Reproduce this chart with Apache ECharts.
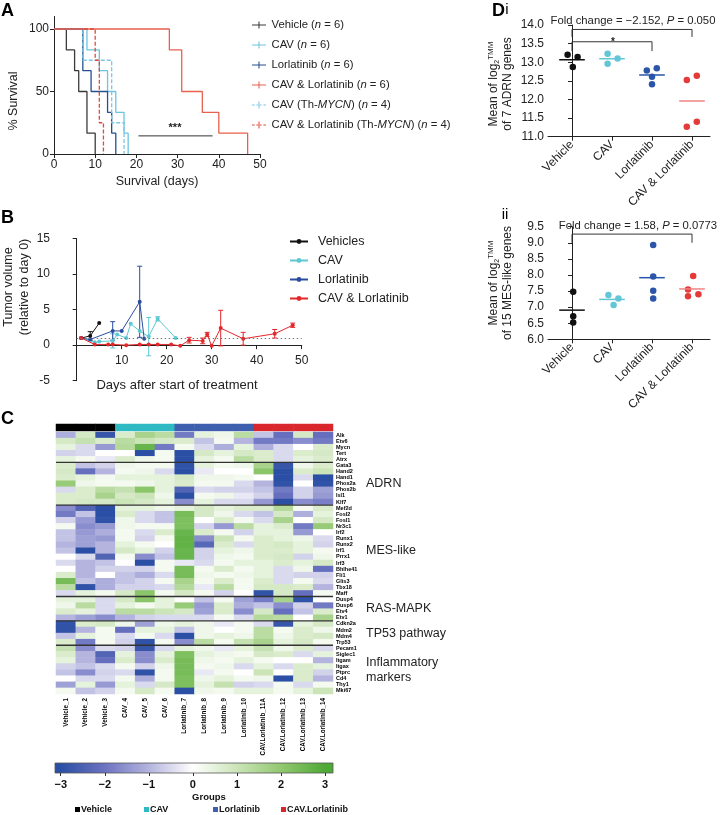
<!DOCTYPE html>
<html>
<head>
<meta charset="utf-8">
<script src="https://cdn.jsdelivr.net/npm/echarts@6/dist/echarts.min.js"></script>
<style>
  html, body { margin: 0; padding: 0; background: #fff; }
  #main { width: 721px; height: 815px; }
</style>
</head>
<body>
<div id="main"></div>
<script>
var FONT = "'Liberation Sans', Arial, sans-serif";
var NARROW = "'Liberation Sans Narrow', 'Liberation Sans', Arial, sans-serif";
var INK = '#222';

// ---------- A: survival (day, % surviving) ----------
var kmNames = ['Vehicle (n = 6)', 'CAV (n = 6)', 'Lorlatinib (n = 6)', 'CAV & Lorlatinib (n = 6)',
  'CAV (Th-MYCN) (n = 4)', 'CAV & Lorlatinib (Th-MYCN) (n = 4)'];
var kmVehicle = [[0, 100], [3, 83.3], [5, 66.7], [6, 50], [8, 16.7], [10, 0]];
var kmCav = [[0, 100], [8, 83.3], [11, 66.7], [13, 50], [15, 33.3], [17, 16.7], [18, 0]];
var kmLorl = [[0, 100], [7, 66.7], [9, 50], [13, 33.3], [14, 16.7], [15, 0]];
var kmCombo = [[0, 100], [28, 83.3], [31, 50], [36, 33.3], [40, 16.7], [47, 0]];
var kmCavMycn = [[0, 100], [7, 75], [14, 25], [17, 0]];
var kmComboMycn = [[0, 100], [10, 75], [11, 25], [12, 0]];
var kmColors = ['#3a3a3a', '#6cc3e4', '#24508f', '#e8604f', '#7cc6e6', '#e2493b'];
var kmDashed = [false, false, false, false, true, true];
var sigLine = [[20.5, 14.5], [38.5, 14.5]];

// ---------- B: tumor volume relative to day 0 ----------
var tvNames = ['Vehicles', 'CAV', 'Lorlatinib', 'CAV & Lorlatinib'];
var tvColors = ['#111111', '#5cc8d2', '#2a4d9e', '#e3272b'];
var tvDaysVeh = [1, 3, 5];
var tvVeh = [1, 1.3, 3.1];
var tvVehErr = [0, 0.6, 0];
var tvDaysCav = [1, 4, 5, 8, 9, 11, 12, 14, 16, 18, 22];
var tvCav = [1, 0.4, 0.5, 0.6, 1.5, 1.0, 3.0, 2.0, 1.2, 3.7, 1.0];
var tvCavErr = [0, 0, 0, 1.0, 0, 0, 0, 0, 2.7, 0.3, 0];
var tvDaysLorl = [1, 3, 8, 10, 14, 15];
var tvLorl = [1, 0.8, 2.0, 2.0, 6.1, 0.9];
var tvLorlErr = [0, 0, 1.3, 0, 5.0, 0];
var tvDaysCombo = [1, 4, 7, 8, 11, 14, 16, 18, 21, 23, 25, 28, 29, 30, 32, 37, 44, 48];
var tvCombo = [1, 0.1, 0.1, 0.1, 0, 0.1, 0.1, 0.1, 0.1, -0.1, 0.7, 0.6, 1.5, -0.1, 2.4, 0.9, 1.6, 2.8];
var tvComboErr = [0, 0, 0, 0, 0, 0, 0, 0, 0, 0, 0.4, 0.4, 0.3, 0, 2.5, 0.9, 0.6, 0.3];

// ---------- C: heatmap ----------
var samples = ['Vehicle_1', 'Vehicle_2', 'Vehicle_3', 'CAV_4', 'CAV_5', 'CAV_6', 'Lorlatinib_7',
  'Lorlatinib_8', 'Lorlatinib_9', 'Lorlatinib_10', 'CAV.Lorlatinib_11A', 'CAV.Lorlatinib_12',
  'CAV.Lorlatinib_13', 'CAV.Lorlatinib_14'];
var sampleGroup = [0, 0, 0, 1, 1, 1, 2, 2, 2, 2, 3, 3, 3, 3];
var groupNames = ['Vehicle', 'CAV', 'Lorlatinib', 'CAV.Lorlatinib'];
var groupColors = ['#000000', '#2eb9c3', '#3d5fae', '#d8262c'];
var genes = ['Alk', 'Etv6', 'Mycn', 'Tert', 'Atrx',
  'Gata3', 'Hand2', 'Hand1', 'Phox2a', 'Phox2b', 'Isl1', 'Klf7',
  'Mef2d', 'Fosl2', 'Fosl1', 'Nr3c1', 'Irf2', 'Runx1', 'Runx2', 'Irf1', 'Prrx1', 'Irf3', 'Bhlhe41',
  'Fli1', 'Glis3', 'Tbx18', 'Maff',
  'Dusp4', 'Dusp6', 'Etv4', 'Etv1',
  'Cdkn2a', 'Mdm2', 'Mdm4', 'Trp53',
  'Pecam1', 'Siglec1', 'Itgam', 'Itgax', 'Ptprc', 'Cd4', 'Thy1', 'Mki67'];
var geneSetSizes = [5, 7, 15, 4, 4, 8];
var geneSetLabels = ['', 'ADRN', 'MES-like', 'RAS-MAPK', 'TP53 pathway', 'Inflammatory\nmarkers'];
var expr = [
  [-1.1, 0.8, -2.8, 0.7, 1.6, 1.3, -1.9, 0.5, 0.3, 1.3, -0.8, -2.1, 0.8, -2.1],
  [0.8, 1.1, 0.7, 1.3, 1.0, 0.8, 0.7, -0.8, 0.2, -1.0, -1.9, -1.9, -1.6, -1.9],
  [0.5, -0.5, -1.4, 1.4, 2.6, -1.9, 0.2, -0.5, -1.1, 0.5, -1.1, -0.5, 0, 0.7],
  [-0.6, -0.5, 0, 0, -3, 0.2, -3, 0.8, 0.5, 0.8, 0.7, -0.5, 0.7, 0.8],
  [0.5, 0.2, -0.3, 0.7, 0.3, 0.2, -3, 0.5, 0.2, 1.3, 0.7, -0.5, 0.5, 0.7],
  [0.7, -0.8, -0.6, 0.3, 0.2, 0.2, -2.9, 0.5, 0.2, 0.3, 1.6, -2.8, 0.3, 0.7],
  [0.8, -2.1, -1.0, 0.2, 0.3, -0.5, -3, -0.3, 0, 0, 2.1, -3, 0.7, 1.0],
  [0.7, 0.5, 0.2, 0.5, 0.5, 0.5, 0.8, 0.3, 0.3, 0.2, 0, -3, -0.5, -3],
  [1.9, 0.3, 0.2, 0.2, 0.3, 0.5, 0.7, 0.2, 0.2, -0.5, -1.0, -2.9, 0, -2.9],
  [-0.5, 0.7, 1.3, 1.1, 2.1, 0.5, -2.4, -0.5, -0.6, -0.6, -0.8, -1.9, -0.6, -1.3],
  [0.7, 0.7, 1.6, 0.8, 1.0, 0.3, -3, 0.2, 0.3, -0.3, -0.6, -2.1, -0.6, -1.4],
  [0.7, 0.8, 0.8, 1.0, 0.8, 0.5, -1.6, 0.5, -0.5, -0.5, -1.4, -3, -1.6, -1.8],
  [-1.6, -2.4, -3, 0.5, 0.5, 0.3, 0.5, 0.8, 0.5, 0.7, 0.7, 1.4, 0.2, 0.7],
  [-1.9, -0.8, -3, 0.7, -0.5, -0.8, 2.4, 0.8, 0.3, -0.5, -0.8, 0.8, -1.1, 0.5],
  [-0.6, -1.4, -2.9, 0.3, -0.5, -0.8, 2.3, 0, 0.7, 0.2, -0.5, 1.6, 0, 0.8],
  [0.2, -1.6, -1.4, 0.3, 0.2, 0.2, 2.3, -0.6, -1.4, 1.3, 0.5, 0.7, -1.9, 1.9],
  [-0.8, -1.4, -1.1, 0.2, -0.5, 0.7, 2.6, 0.7, 0.2, -0.6, 0.5, 0.5, -1.4, 0],
  [-0.8, -1.3, -1.4, 0.2, -0.6, 0.2, 2.7, -1.6, 1.0, 0.2, 0.7, 0.5, 0.3, -0.5],
  [-1.0, -1.3, -1.0, 0.5, 0.2, 0, 2.7, -2.3, 0.7, -0.5, 0.7, 0.8, 0.5, -0.6],
  [-0.8, -3, -1.0, 0.8, 0.5, -0.6, 2.6, -0.6, 0.5, 0.3, 0.7, 0.7, 0.5, 0.2],
  [0, -0.5, -2.4, 0.2, -1.6, -0.8, 2.6, -0.6, 0.3, 0.2, 0.7, 0.8, -0.6, 0.3],
  [-0.5, -1.0, -0.8, 0, -3, 0.2, -0.3, -0.5, 0.2, 0.5, 0.5, 0.7, 0.5, 0.8],
  [0, -1.0, -0.6, -0.6, -0.6, 0.2, 2.4, 0.2, 0.7, 0.2, 0.5, -0.5, 0.3, -2.1],
  [0.7, -1.0, 0, -0.8, -1.1, -0.5, 2.4, 0.3, 0.2, 0.3, 0.5, -0.5, -0.6, -0.6],
  [2.4, -0.8, -1.1, -0.8, -0.6, 0.2, 1.6, 0.2, 0.7, 0.2, 0.7, -0.5, 0.2, -0.5],
  [1.3, -2.9, -1.1, -0.6, -0.6, -0.5, 1.4, -0.3, 1.3, 0.2, 0.8, 0.8, 0.7, -1.0],
  [-0.5, 0.5, 0.2, 0.8, 2.1, 0.2, 0.8, 0.2, -0.6, 0, -2.9, 0.8, -2.1, 0.2],
  [0.5, 0.5, -0.5, 0.8, 2.1, 0.5, 0, -0.8, 0.2, -1.3, -1.9, 1.6, -2.9, 0],
  [0.3, 1.3, -0.5, 0.5, 0.2, 0.5, 1.9, -1.4, 0.7, -1.1, -0.8, -1.6, -0.6, -1.9],
  [0.7, 0.5, -0.5, 1.3, 1.3, 1.0, 0.8, -1.3, 0.7, -1.6, 0.8, -2.1, -0.8, 0.7],
  [-1.0, -1.3, -1.6, -1.0, -0.6, -0.5, -0.5, -0.5, 0.2, -0.5, 1.4, 1.3, 0, 1.6],
  [-2.9, 0.7, 0.8, 0.3, -1.3, 0.3, 0.5, 0.3, -0.3, 0.2, -0.5, -2.8, 0.5, 0.8],
  [-2.9, -1.0, 0.2, -2.1, 0.5, 0.5, -0.8, 0.3, 0, 0.2, 1.3, 0.2, 0.7, 0.3],
  [-0.8, 0.5, 0.2, -0.5, 0.2, -0.5, -3, 0.3, 0.5, 0.3, 1.3, 0.3, 0.7, 0.8],
  [0.7, -1.9, 0.2, -0.6, -2.9, 0.2, -1.6, 1.3, 0.2, 1.1, 1.6, 0.5, 0.8, 0.2],
  [1.1, -1.6, -0.5, -0.6, -2.8, -0.5, 0.5, 0.3, -0.3, 0.5, 1.1, 0.3, 0.7, -0.5],
  [0.7, -1.0, -2.4, 0.5, -1.6, 0.5, 2.3, 0.5, 0.3, 0.2, 0.8, 0.7, -0.5, 0.5],
  [0.5, -1.0, -2.1, 0.7, -1.6, 0.7, 2.4, 0.3, 0.2, 0.5, 0.2, 0, 0, -1.0],
  [-0.6, -0.8, -0.5, 0.2, -0.6, 0.3, 2.4, 0.2, 0.3, -0.5, 0.5, -0.5, 0.7, 0.5],
  [-0.8, -1.6, -0.6, -0.5, -2.9, 0.2, 2.4, -0.3, 0.2, 0, 1.0, 0, 0.7, -0.6],
  [0, -0.5, -0.5, 0.2, -1.1, 0.2, 2.3, 0.3, 0.5, 0.2, 0.3, -3, 0.7, -1.0],
  [-1.3, 0.5, -1.4, 0.5, -0.5, 0.8, 2.3, 0.5, 1.1, -0.6, -0.5, 0.2, -0.5, 0.2],
  [0.2, -0.8, -0.6, 0.2, 0.8, 0.2, -3, 0.3, 0.2, 0.5, 0.5, 0.2, 0.5, 1.0]
];
var heatColors = ['#2a4fa4', '#6c73c1', '#b4b4de', '#ffffff', '#cbe4b8', '#92c870', '#4ea936'];
var colorbarTicks = [-3, -2, -1, 0, 1, 2, 3];

// ---------- D: group means ----------
var dGroups = ['Vehicle', 'CAV', 'Lorlatinib', 'CAV & Lorlatinib'];
var dColors = ['#111111', '#62c6d6', '#2b55a8', '#e43a3a'];
var dMeanColors = ['#111111', '#62c6d6', '#2b55a8', '#f08585'];
var adrnVals = [[13.20, 13.14, 12.87], [13.23, 12.96, 13.10], [12.78, 12.84, 12.61, 12.41], [12.52, 12.64, 11.27, 11.40]];
var adrnJitter = [[-0.11, 0.14, 0.02], [-0.11, -0.11, 0.14], [-0.13, 0.12, 0, 0], [-0.13, 0.12, -0.13, 0.12]];
var mesVals = [[7.48, 6.72, 6.52], [7.38, 7.27, 7.07], [8.93, 7.95, 7.51, 7.27], [7.97, 7.55, 7.34, 7.40]];
var mesJitter = [[0.03, 0.03, 0.03], [-0.09, 0.16, 0.04], [0.03, 0.03, 0.03, 0.03], [0.03, -0.1, -0.1, 0.16]];
var adrnBrackets = [[0, 3, 13.88, 13.68], [0, 2, 13.55, 13.30]];
var mesBrackets = [[0, 3, 9.27, 9.0]];

// ---------- helpers ----------
var axisLine = { show: true, lineStyle: { color: INK, width: 1 } };
var axisTick = { show: true, length: 4, lineStyle: { color: INK, width: 1 } };
function lbl(extra) {
  return Object.assign({ color: INK, fontSize: 12, fontFamily: FONT }, extra || {});
}
function hidden(type, gi, extra) {
  return Object.assign({ type: type, gridIndex: gi, show: false, splitLine: { show: false } }, extra || {});
}
function txt(x, y, text, style, rot) {
  return {
    type: 'text', x: x, y: y, rotation: rot || 0, silent: true,
    style: Object.assign({
      text: text, fill: INK, fontFamily: FONT, fontSize: 12,
      align: 'center', verticalAlign: 'middle', textAlign: 'center', textVerticalAlign: 'middle'
    }, style || {})
  };
}

var series = [];

// A
var kmData = [kmVehicle, kmCav, kmLorl, kmCombo, kmCavMycn, kmComboMycn];
kmData.forEach(function (d, i) {
  series.push({
    name: kmNames[i], type: 'line', xAxisIndex: 0, yAxisIndex: 0, step: 'end', data: d,
    symbol: 'none', silent: true, color: kmColors[i],
    lineStyle: { color: kmColors[i], width: 1.3, type: kmDashed[i] ? [4, 2] : 'solid' }
  });
});
series.push({
  type: 'line', xAxisIndex: 0, yAxisIndex: 0, data: sigLine, symbol: 'none', silent: true,
  lineStyle: { color: '#333', width: 1 }
});

// B
function errSeries(days, vals, errs, color) {
  return {
    type: 'custom', xAxisIndex: 1, yAxisIndex: 1, silent: true, z: 3,
    data: days.map(function (d, i) { return [d, vals[i], errs[i]]; }),
    encode: { x: 0, y: 1 },
    renderItem: function (params, api) {
      var e = api.value(2);
      if (!e) return;
      var x = api.value(0), y = api.value(1);
      var t = api.coord([x, y + e]), b = api.coord([x, y - e]);
      var w = 2.5, st = { stroke: color, lineWidth: 1 };
      return {
        type: 'group', children: [
          { type: 'line', shape: { x1: t[0], y1: t[1], x2: b[0], y2: b[1] }, style: st },
          { type: 'line', shape: { x1: t[0] - w, y1: t[1], x2: t[0] + w, y2: t[1] }, style: st },
          { type: 'line', shape: { x1: b[0] - w, y1: b[1], x2: b[0] + w, y2: b[1] }, style: st }
        ]
      };
    }
  };
}
var tvDays = [tvDaysVeh, tvDaysCav, tvDaysLorl, tvDaysCombo];
var tvVals = [tvVeh, tvCav, tvLorl, tvCombo];
var tvErrs = [tvVehErr, tvCavErr, tvLorlErr, tvComboErr];
tvNames.forEach(function (n, i) {
  var s = {
    name: n, type: 'line', xAxisIndex: 1, yAxisIndex: 1, color: tvColors[i],
    data: tvDays[i].map(function (d, k) { return [d, tvVals[i][k]]; }),
    symbol: 'circle', symbolSize: 4, silent: true,
    lineStyle: { color: tvColors[i], width: 1 }, itemStyle: { color: tvColors[i] }, z: 4
  };
  if (i === 0) {
    s.markLine = {
      silent: true, symbol: 'none', label: { show: false },
      lineStyle: { color: '#777', type: [1.5, 2.5], width: 1 },
      data: [{ yAxis: 1 }]
    };
  }
  series.push(s);
  series.push(errSeries(tvDays[i], tvVals[i], tvErrs[i], tvColors[i]));
});

// C group bar
var barIdx = series.length;
series.push({
  type: 'heatmap', xAxisIndex: 2, yAxisIndex: 2, silent: true, emphasis: { disabled: true },
  data: sampleGroup.map(function (g, i) { return [i, 0, g]; })
});
// C heatmap
var heatData = [];
expr.forEach(function (row, r) { row.forEach(function (v, c) { heatData.push([c, r, v]); }); });
var heatIdx = series.length;
series.push({
  type: 'heatmap', xAxisIndex: 3, yAxisIndex: 3, silent: true, emphasis: { disabled: true },
  data: heatData
});
// gene-set separators
var cum = 0;
geneSetSizes.slice(0, -1).forEach(function (s) {
  cum += s;
  series.push({
    type: 'line', xAxisIndex: 4, yAxisIndex: 4, data: [[0, cum], [samples.length, cum]],
    symbol: 'none', silent: true, lineStyle: { color: '#333', width: 1.3 }, z: 5
  });
});

// D
function dSeries(vals, jitter, axisIdx, brackets) {
  vals.forEach(function (arr, g) {
    series.push({
      type: 'scatter', xAxisIndex: axisIdx, yAxisIndex: axisIdx, silent: true, symbolSize: 6.5,
      itemStyle: { color: dColors[g], opacity: 1 },
      data: arr.map(function (v, k) { return [g + jitter[g][k], v]; })
    });
    var m = arr.reduce(function (a, b) { return a + b; }, 0) / arr.length;
    series.push({
      type: 'line', xAxisIndex: axisIdx, yAxisIndex: axisIdx, silent: true, symbol: 'none',
      lineStyle: { color: dMeanColors[g], width: 1.5 }, data: [[g - 0.32, m], [g + 0.32, m]]
    });
  });
  brackets.forEach(function (b) {
    series.push({
      type: 'line', xAxisIndex: axisIdx, yAxisIndex: axisIdx, silent: true, symbol: 'none',
      lineStyle: { color: '#333', width: 1 },
      data: [[b[0], b[3]], [b[0], b[2]], [b[1], b[2]], [b[1], b[3]]]
    });
  });
}
dSeries(adrnVals, adrnJitter, 6, adrnBrackets);
dSeries(mesVals, mesJitter, 7, mesBrackets);

// ---------- axes ----------
function dxAxis(gi) {
  return {
    type: 'value', gridIndex: gi, min: -0.6, max: 3.45, splitLine: { show: false },
    axisLine: axisLine, axisTick: Object.assign({ customValues: [0, 1, 2, 3] }, axisTick),
    axisLabel: lbl({
      customValues: [0, 1, 2, 3], rotate: 45, margin: 6,
      formatter: function (v) { return dGroups[Math.round(v)]; }
    })
  };
}
function dyAxis(gi, min, max) {
  return {
    type: 'value', gridIndex: gi, min: min, max: max, interval: 0.5, splitLine: { show: false },
    axisLine: axisLine, axisTick: axisTick,
    axisLabel: lbl({ margin: 4, formatter: function (v) { return v.toFixed(1); } })
  };
}

var xAxes = [
  { type: 'value', gridIndex: 0, min: 0, max: 50, interval: 10, splitLine: { show: false },
    axisLine: axisLine, axisTick: axisTick, axisLabel: lbl({ margin: 5 }) },
  { type: 'value', gridIndex: 1, min: 0, max: 50, interval: 10, offset: -30.7, splitLine: { show: false },
    axisLine: axisLine, axisTick: axisTick, axisLabel: lbl({ customValues: [10, 20, 30, 40, 50], margin: 5 }) },
  hidden('category', 2, { data: samples }),
  { type: 'category', gridIndex: 3, data: samples, axisLine: { show: false }, axisTick: { show: false },
    splitLine: { show: false },
    axisLabel: { interval: 0, rotate: 90, margin: 4, fontSize: 6.3, fontWeight: 'bold', color: '#000', fontFamily: NARROW } },
  hidden('value', 4, { min: 0, max: samples.length }),
  { type: 'value', gridIndex: 5, min: -3.13, max: 3.18, splitLine: { show: false }, axisLine: { show: false },
    axisTick: { show: true, customValues: colorbarTicks, length: 3, lineStyle: { color: '#333' } },
    axisLabel: { customValues: colorbarTicks, margin: 6, fontSize: 11, fontWeight: 'bold', color: '#111', fontFamily: FONT,
      formatter: function (v) { return String(v).replace('-', '\u2212'); } } },
  dxAxis(6),
  dxAxis(7)
];
var yAxes = [
  { type: 'value', gridIndex: 0, min: 0, max: 110, splitLine: { show: false },
    axisLine: axisLine, axisTick: Object.assign({ customValues: [0, 50, 100] }, axisTick),
    axisLabel: lbl({ customValues: [0, 50, 100], margin: 5 }) },
  { type: 'value', gridIndex: 1, min: -5, max: 15, interval: 5, offset: 21.7, splitLine: { show: false },
    axisLine: axisLine, axisTick: axisTick, axisLabel: lbl({ margin: 5 }) },
  hidden('category', 2, { data: ['group'] }),
  { type: 'category', gridIndex: 3, data: genes, inverse: true, position: 'right',
    axisLine: { show: false }, axisTick: { show: false }, splitLine: { show: false },
    axisLabel: { interval: 0, margin: 3, fontSize: 5.5, fontWeight: 'bold', color: '#000', fontFamily: NARROW } },
  hidden('value', 4, { min: 0, max: genes.length, inverse: true }),
  hidden('value', 5, { min: 0, max: 1 }),
  dyAxis(6, 11, 14),
  dyAxis(7, 6, 9.5)
];

// ---------- annotations ----------
var heatTop = 432, heatH = 262, rowH = heatH / genes.length;
var richTitle = { n: { fontSize: 11.3, fontFamily: FONT, fill: INK }, i: { fontSize: 11.3, fontFamily: FONT, fontStyle: 'italic', fill: INK } };
var richName = {
  n: { fontSize: 12, lineHeight: 14, fontFamily: FONT, fill: INK },
  s: { fontSize: 7, lineHeight: 14, verticalAlign: 'bottom', fontFamily: FONT, fill: INK },
  t: { fontSize: 8, lineHeight: 14, verticalAlign: 'top', fontFamily: FONT, fill: INK }
};
var graphics = [
  txt(1, 11, 'A', { fontSize: 18, fontWeight: 'bold', align: 'left', textAlign: 'left', fill: '#000' }),
  txt(1, 218, 'B', { fontSize: 18, fontWeight: 'bold', align: 'left', textAlign: 'left', fill: '#000' }),
  txt(1, 419, 'C', { fontSize: 18, fontWeight: 'bold', align: 'left', textAlign: 'left', fill: '#000' }),
  txt(492, 11, 'D', { fontSize: 18, fontWeight: 'bold', align: 'left', textAlign: 'left', fill: '#000' }),
  txt(507, 10, 'i', { fontSize: 15, fill: '#000' }),
  txt(505, 215, 'ii', { fontSize: 15, fill: '#000' }),
  txt(14, 101, '% Survival', { fontSize: 12.5 }, Math.PI / 2),
  txt(157, 182, 'Survival (days)', { fontSize: 12.5 }),
  txt(175, 128, '***', { fontSize: 11, fontWeight: 'bold' }),
  txt(17, 287, 'Tumor volume\n(relative to day 0)', { fontSize: 12.5, lineHeight: 16 }, Math.PI / 2),
  txt(177, 385, 'Days after start of treatment', { fontSize: 13 }),
  txt(633, 21, '{n|Fold change = \u22122.152, }{i|P}{n| = 0.050}', { rich: richTitle }),
  txt(613, 42, '*', { fontSize: 10, fontWeight: 'bold' }),
  txt(638, 226, '{n|Fold change = 1.58, }{i|P}{n| = 0.0773}', { rich: richTitle }),
  txt(501, 84, '{n|Mean of log}{s|2}{t|TMM}\n{n|of 7 ADRN genes}', { rich: richName }, Math.PI / 2),
  txt(501, 283, '{n|Mean of log}{s|2}{t|TMM}\n{n|of 15 MES-like genes}', { rich: richName }, Math.PI / 2),
  txt(209, 797, 'Groups', { fontSize: 9.5, fontWeight: 'bold', fill: '#111', fontFamily: NARROW })
];
// gene set labels beside the heatmap
var start = 0;
geneSetSizes.forEach(function (s, i) {
  if (geneSetLabels[i]) {
    graphics.push(txt(366, heatTop + rowH * (start + s / 2), geneSetLabels[i],
      { fontSize: 12.5, align: 'left', textAlign: 'left', lineHeight: 15, fill: '#222' }));
  }
  start += s;
});
// colour bar
var cbMin = -3.13, cbMax = 3.18;
graphics.push({
  type: 'rect', silent: true, shape: { x: 55, y: 763, width: 278, height: 10 },
  style: {
    stroke: '#555', lineWidth: 0.8,
    fill: new echarts.graphic.LinearGradient(0, 0, 1, 0, colorbarTicks.map(function (v, i) {
      return { offset: (v - cbMin) / (cbMax - cbMin), color: heatColors[i] };
    }).concat([{ offset: 1, color: heatColors[heatColors.length - 1] }]).sort(function (a, b) { return a.offset - b.offset; }))
  }
});
// group legend under the colour bar
var legX = [75, 144, 213, 281];
groupNames.forEach(function (n, i) {
  graphics.push({ type: 'rect', silent: true, shape: { x: legX[i], y: 807, width: 5, height: 5 }, style: { fill: groupColors[i] } });
  graphics.push(txt(legX[i] + 6, 810, n, { fontSize: 9, fontWeight: 'bold', align: 'left', textAlign: 'left', fill: '#111', fontFamily: NARROW }));
});

// ---------- legends ----------
var solidIcon = 'path://M0,3.4H16V4.6H0Z M7.4,0H8.6V8H7.4Z';
var dashedIcon = 'path://M0,3.4H3V4.6H0Z M5,3.4H7V4.6H5Z M9,3.4H11V4.6H9Z M13,3.4H16V4.6H13Z M7.4,0H8.6V8H7.4Z';
var legendA = {
  left: 252, top: 18, orient: 'vertical', padding: 0, itemWidth: 15, itemHeight: 7, itemGap: 6,
  selectedMode: false, itemStyle: { borderWidth: 0 },
  data: kmNames.map(function (n, i) { return { name: n, icon: kmDashed[i] ? dashedIcon : solidIcon }; }),
  formatter: function (name) {
    return name.replace('(n', '({i|n}').replace('MYCN', '{i|MYCN}');
  },
  textStyle: { color: INK, fontSize: 11.3, fontFamily: FONT, lineHeight: 14,
    rich: { i: { fontStyle: 'italic', fontSize: 11.3, fontFamily: FONT, color: INK } } }
};
var legendB = {
  left: 289, top: 234, orient: 'vertical', padding: 0, itemWidth: 18, itemHeight: 6, itemGap: 4,
  selectedMode: false, data: tvNames,
  textStyle: { color: INK, fontSize: 12.5, fontFamily: FONT, lineHeight: 15, padding: [0, 0, 0, 5] }
};

var chart = echarts.init(document.getElementById('main'), null, { renderer: 'canvas' });
chart.setOption({
  animation: false,
  backgroundColor: '#ffffff',
  textStyle: { fontFamily: FONT },
  grid: [
    { left: 54, top: 16.5, width: 206, height: 137.5 },
    { left: 76.7, top: 238.5, width: 225, height: 142.2 },
    { left: 56, top: 424, width: 277, height: 7 },
    { left: 56, top: heatTop, width: 277, height: heatH },
    { left: 56, top: heatTop, width: 277, height: heatH },
    { left: 55, top: 763, width: 278, height: 10 },
    { left: 548, top: 25, width: 162, height: 111.7 },
    { left: 548, top: 226.7, width: 162, height: 112.6 }
  ],
  xAxis: xAxes,
  yAxis: yAxes,
  legend: [legendA, legendB],
  visualMap: [
    { type: 'continuous', show: false, seriesIndex: heatIdx, dimension: 2, min: -3, max: 3,
      inRange: { color: heatColors } },
    { type: 'piecewise', show: false, seriesIndex: barIdx, dimension: 2,
      pieces: groupColors.map(function (c, i) { return { value: i, color: c }; }) }
  ],
  graphic: graphics,
  series: series
});
</script>
</body>
</html>
